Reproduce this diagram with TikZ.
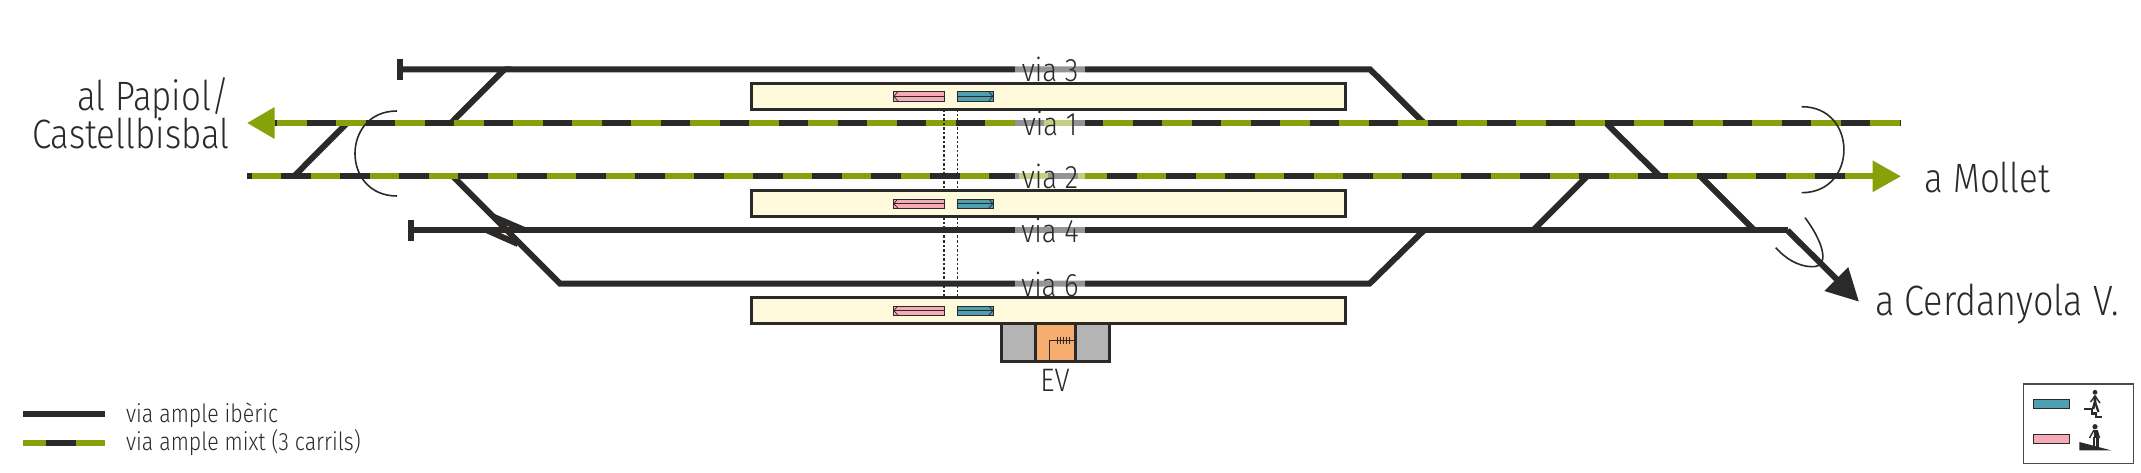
\documentclass[tikz,border=0pt]{standalone}
\usepackage{fontspec}
\setmainfont{Fira Sans Light}[FakeStretch=0.85]
\usetikzlibrary{arrows.meta}
\definecolor{Rail}{HTML}{2B2A29}
\definecolor{Mixt}{HTML}{86A10A}
\definecolor{Cream}{HTML}{FFFADC}
\definecolor{Pinkish}{HTML}{F5AAB6}
\definecolor{Teal}{HTML}{4E9FAF}
\definecolor{Shed}{HTML}{B3B4B3}
\definecolor{Office}{HTML}{F5AE70}

\begin{document}
\begin{tikzpicture}[
  x=1pt,y=-1pt,
  iberic/.style={draw=Rail,line width=6pt},
  mixtbase/.style={draw=Mixt,line width=6pt},
  mixtdash/.style={draw=Rail,line width=6pt,dash pattern=on 29.5pt off 29.5pt},
  thinarc/.style={draw=Rail,line width=1.6pt},
  stopbar/.style={draw=Rail,line width=6pt},
  dotline/.style={draw=Rail,line width=1.2pt,dash pattern=on 2.5pt off 2pt},
  platform/.style={draw=Rail,line width=3pt,fill=Cream,minimum width=594pt,minimum height=26pt,inner sep=0pt,outer sep=0pt},
  stairs/.style={draw=Rail,line width=.7pt,fill=#1,minimum width=36pt,minimum height=9.4pt,inner sep=0pt,outer sep=0pt},
  stairline/.style={draw=Rail,line width=.7pt},
  viagap/.style={fill=white,fill opacity=.5,minimum width=70pt,minimum height=8pt,inner sep=0pt},
  vialabel/.style={anchor=base,text=Rail,font=\fontsize{32.5}{32}\selectfont,inner sep=0pt},
  placelabel/.style={text=Rail,font=\fontsize{41}{46}\selectfont,inner sep=0pt},
  legendlabel/.style={anchor=base west,text=Rail,font=\fontsize{25.1}{26}\selectfont,inner sep=0pt},
  shedbox/.style={draw=Rail,line width=3pt,inner sep=0pt,outer sep=0pt}
]
\useasboundingbox (0,0) rectangle (2141,473);
% track points
\coordinate (v3stop) at (400,69.3);
\coordinate (v3w) at (504.5,69.3);
\coordinate (v3e) at (1370,69.3);
\coordinate (v1tip) at (247,123);
\coordinate (v1base) at (274.5,123);
\coordinate (v1e) at (1901,123);
\coordinate (v1a) at (347,123);
\coordinate (v1b) at (451,123);
\coordinate (v1c) at (1424,123);
\coordinate (v1d) at (1606,123);
\coordinate (v2w) at (247,176.3);
\coordinate (v2base) at (1872.6,176.3);
\coordinate (v2tip) at (1901,176.3);
\coordinate (v2a) at (294,176.3);
\coordinate (v2b) at (453,176.3);
\coordinate (v2c) at (1587,176.3);
\coordinate (v2d) at (1660,176.3);
\coordinate (v2e) at (1700.5,176.3);
\coordinate (v4stop) at (411,230.3);
\coordinate (v4a) at (1424,230.3);
\coordinate (v4b) at (1533,230.3);
\coordinate (v4c) at (1754.5,230.3);
\coordinate (v4e) at (1787.5,230.3);
\coordinate (v6w) at (560,283.7);
\coordinate (v6e) at (1369.5,283.7);
\coordinate (cerdanyola) at (1859,301.7);
% tracks
\draw[iberic,line join=miter] (v3w) -- (v3e) -- (v1c);
\draw[iberic] (v3stop) -- (v3w) -- (v1b);
\draw[iberic] (v1a) -- (v2a);
\draw[iberic] (v2b) -- (v6w) -- (v6e) -- (v4a);
\draw[iberic] (v4stop) -- (v4e);
\draw[iberic] (494,217) -- (525,230.3);
\draw[iberic] (487,230.3) -- (518,244);
\draw[iberic] (v1d) -- (v2d);
\draw[iberic] (v2c) -- (v4b);
\draw[iberic] (v2e) -- (v4c);
\draw[iberic,-{Triangle[length=32pt,width=32pt]}] (v4e) -- (cerdanyola);
\draw[mixtbase,-{Triangle[length=27.5pt,width=30pt]}] (v1e) -- (v1tip);
\draw[mixtdash,dash phase=26.8pt] (v1base) -- (v1e);
\draw[mixtbase,-{Triangle[length=28.4pt,width=30pt]}] (v2w) -- (v2tip);
\draw[mixtdash,dash phase=25pt] (v2w) -- (v2base);
% end stops
\draw[stopbar] (400,59) -- (400,80);
\draw[stopbar] (411,220) -- (411,241);
% arcs
\draw[thinarc] (397,111) .. controls (341,111) and (341,196) .. (397,196);
\draw[thinarc] (1801.7,106.7) .. controls (1858,106.7) and (1858,192.7) .. (1801.7,192.7);
\draw[thinarc] (1805,217.7) .. controls (1822,240) and (1832,268) .. (1811,266.7) .. controls (1797,266) and (1785,258) .. (1775.7,247.7);
% passages between platforms
\coordinate (pinktop) at (944,105);
\coordinate (pinkbot) at (944,300);
\coordinate (tealtop) at (957.3,105);
\coordinate (tealbot) at (957.3,300);
\draw[dotline] (pinktop) -- (pinkbot);
\draw[dotline] (tealtop) -- (tealbot);
% platforms
\node[platform] (plat1) at (1048,96.3) {};
\node[platform] (plat2) at (1048,203.5) {};
\node[platform] (plat3) at (1048,310.8) {};
\node[stairs=Pinkish,minimum width=50.7pt] (pink1) at (918.7,96.3) {};
\node[stairs=Teal] (teal1) at (975.3,96.3) {};
\node[stairs=Pinkish,minimum width=50.7pt] (pink2) at (918.7,203.6) {};
\node[stairs=Teal] (teal2) at (975.3,203.6) {};
\node[stairs=Pinkish,minimum width=50.7pt] (pink3) at (918.7,310.6) {};
\node[stairs=Teal] (teal3) at (975.3,310.6) {};
\draw[stairline,-{Straight Barb[length=4pt,width=9pt]}] (pink1.east) -- (pink1.west);
\draw[stairline,-{Straight Barb[length=4pt,width=9pt]}] (teal1.west) -- (teal1.east);
\draw[stairline,-{Straight Barb[length=4pt,width=9pt]}] (pink2.east) -- (pink2.west);
\draw[stairline,-{Straight Barb[length=4pt,width=9pt]}] (teal2.west) -- (teal2.east);
\draw[stairline,-{Straight Barb[length=4pt,width=9pt]}] (pink3.east) -- (pink3.west);
\draw[stairline,-{Straight Barb[length=4pt,width=9pt]}] (teal3.west) -- (teal3.east);
% via labels
\node[viagap] (gap3) at (1050,69.3) {};
\node[viagap] (gap1) at (1050,123) {};
\node[viagap] (gap2) at (1050,176.3) {};
\node[viagap] (gap4) at (1050,230.3) {};
\node[viagap] (gap6) at (1050,283.7) {};
\node[vialabel] (via3) at (1050,81.7) {via 3};
\node[vialabel] (via1) at (1050,135.4) {via 1};
\node[vialabel] (via2) at (1050,188.7) {via 2};
\node[vialabel] (via4) at (1050,242.7) {via 4};
\node[vialabel] (via6) at (1050,296.1) {via 6};
% station building
\draw[shedbox,fill=Shed] (1001.7,323) rectangle (1109.3,361.7);
\draw[shedbox,fill=Office] (1035.7,323) rectangle (1075.7,361.7);
\draw[draw=Rail,line width=.9pt] (1049,360) -- (1049,340) -- (1075,340);
\draw[draw=Rail,line width=1.5pt] (1057.5,336.5) -- (1057.5,343.5) (1060.5,336.5) -- (1060.5,343.5) (1063.5,336.5) -- (1063.5,343.5) (1066.5,336.5) -- (1066.5,343.5) (1069.5,336.5) -- (1069.5,343.5);
\node[vialabel] (ev) at (1055,391.7) {EV};
% places
\node[placelabel,anchor=base east] (papiol) at (229.5,111) {al Papiol/};
\node[placelabel,anchor=base east] (castell) at (229.5,148.3) {Castellbisbal};
\node[placelabel,anchor=base west] (mollet) at (1924.6,193) {a Mollet};
\node[placelabel,anchor=base west,font=\fontsize{42.4}{46}\selectfont] (cerd) at (1875,315.7) {a Cerdanyola V.};
% legend
\coordinate (lega) at (23.3,414);
\coordinate (legb) at (105.3,414);
\coordinate (legc) at (23.3,443);
\coordinate (legd) at (105.3,443);
\draw[iberic] (lega) -- (legb);
\draw[mixtbase] (legc) -- (legd);
\draw[draw=Rail,line width=6pt] (46,443) -- (76,443);
\node[legendlabel] (legiber) at (126,422.7) {via ample ibèric};
\node[legendlabel] (legmixt) at (126,450.7) {via ample mixt (3 carrils)};
% key box
\draw[draw=Rail!85,line width=1.4pt] (2023.3,384) rectangle (2133.3,463.7);
\node[stairs=Teal,minimum width=36.4pt] (keyteal) at (2051.5,404) {};
\node[stairs=Pinkish,minimum width=36.4pt] (keypink) at (2051.5,438.7) {};
\fill[Rail] (2095,392.3) circle (2.4pt);
\draw[draw=Rail,line width=2.6pt] (2095,395.5) -- (2095,402) -- (2093,409);
\draw[draw=Rail,line width=2.2pt] (2095,402) -- (2098.5,412);
\draw[draw=Rail,line width=1.4pt] (2090.5,402) -- (2095,396) -- (2100,403);
\draw[draw=Rail,line width=2.4pt] (2084.3,409) -- (2091.7,409) -- (2091.7,413.5) -- (2096,413.5) -- (2096,416.7) -- (2102,416.7);
\fill[Rail] (2095,426.7) circle (2.6pt);
\draw[draw=Rail,line width=4pt] (2095.5,430) -- (2095.5,438);
\draw[draw=Rail,line width=2.2pt] (2094,437) -- (2094,446) (2097.5,437) -- (2097.5,447);
\draw[draw=Rail,line width=1.4pt] (2089.5,438) -- (2094,430) (2097,430) -- (2099.5,438);
\fill[Rail] (2079.3,442) -- (2079.3,450.3) -- (2111,450.3) -- cycle;
\end{tikzpicture}
\end{document}
